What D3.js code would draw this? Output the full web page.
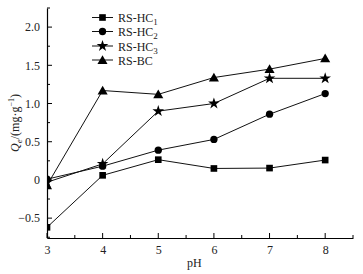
<!DOCTYPE html>
<html><head><meta charset="utf-8">
<script src="https://cdn.jsdelivr.net/npm/d3@7/dist/d3.min.js"></script>
<style>body{margin:0;background:#fff}svg{display:block}</style>
</head><body>
<svg id="c" width="363" height="274"></svg>
<script>
const pH = [3, 4, 5, 6, 7, 8];
const hc1 = [-0.62, 0.06, 0.265, 0.15, 0.155, 0.26];
const hc2 = [0.01, 0.18, 0.39, 0.53, 0.86, 1.13];
const hc3 = [-0.03, 0.21, 0.90, 1.00, 1.33, 1.33];
const bc  = [-0.07, 1.17, 1.12, 1.34, 1.45, 1.59];
const seriesNames = ["RS-HC", "RS-HC", "RS-HC", "RS-BC"];
const seriesSubs = ["1", "2", "3", ""];
const yTicks = [-0.5, 0, 0.5, 1.0, 1.5, 2.0];
const yTickLabels = ["\u22120.5", "0", "0.5", "1.0", "1.5", "2.0"];
const xTicks = [3, 4, 5, 6, 7, 8];

const svg = d3.select("#c");
const font = "'Liberation Serif','Times New Roman',serif";
const L = 47, R = 353, T = 8, B = 238;
const x = d3.scaleLinear().domain([3, 8.5]).range([L, R]);
const y = d3.scaleLinear().domain([-0.76, 2.25]).range([B, T]);

svg.append("defs").append("clipPath").attr("id", "clip")
  .append("rect").attr("x", L).attr("y", 0).attr("width", R - L + 10).attr("height", B);

// axes
const xAxis = d3.axisBottom(x).tickValues(xTicks).tickSize(0).tickFormat(d3.format("d")).tickPadding(7);
const gx = svg.append("g").attr("transform", `translate(0,${B})`).call(xAxis);
const yAxis = d3.axisLeft(y).tickValues(yTicks).tickSize(0).tickPadding(7)
  .tickFormat((d, i) => yTickLabels[i]);
const gy = svg.append("g").attr("transform", `translate(${L},0)`).call(yAxis);
[gx, gy].forEach(g => {
  g.select(".domain").attr("stroke", "#000").attr("stroke-width", 1.2);
  g.selectAll("text").attr("font-family", font).attr("font-size", 12).attr("fill", "#222");
});
// inward ticks
const xMinor = d3.range(3, 8.51, 0.5);
svg.append("g").selectAll("line").data(xMinor).join("line")
  .attr("x1", d => x(d)).attr("x2", d => x(d))
  .attr("y1", B).attr("y2", d => B - (Math.abs(d - Math.round(d)) < 1e-6 ? 5 : 3))
  .attr("stroke", "#000").attr("stroke-width", 1);
const yMinor = d3.range(-0.75, 2.26, 0.25);
svg.append("g").selectAll("line").data(yMinor).join("line")
  .attr("y1", d => y(d)).attr("y2", d => y(d))
  .attr("x1", L).attr("x2", d => L + (Math.abs(d * 2 - Math.round(d * 2)) < 1e-6 ? 5 : 3))
  .attr("stroke", "#000").attr("stroke-width", 1);

// axis titles
svg.append("text").attr("x", x(5.65)).attr("y", 267).attr("text-anchor", "middle")
  .attr("font-family", font).attr("font-size", 12).attr("fill", "#222").text("pH");
const yl = svg.append("text").attr("transform", "translate(19,123) rotate(-90)")
  .attr("text-anchor", "middle").attr("font-family", font).attr("font-size", 12).attr("fill", "#222");
yl.append("tspan").attr("font-style", "italic").text("Q");
yl.append("tspan").attr("font-style", "italic").attr("font-size", 9).attr("dy", 3).text("e");
yl.append("tspan").attr("dy", -3).text("/(mg\u00b7g");
yl.append("tspan").attr("font-size", 8).attr("dy", -5).text("\u22121");
yl.append("tspan").attr("dy", 5).text(")");

// series
const all = [hc1, hc2, hc3, bc];
const symbols = [
  d3.symbol().type(d3.symbolSquare).size(44),
  d3.symbol().type(d3.symbolCircle).size(42),
  d3.symbol().type(d3.symbolStar).size(42),
  d3.symbol().type(d3.symbolTriangle).size(44)
];
const plot = svg.append("g").attr("clip-path", "url(#clip)");
const line = d3.line().x((d, i) => x(pH[i])).y(d => y(d));
all.forEach((s, k) => {
  plot.append("path").datum(s).attr("d", line).attr("fill", "none")
    .attr("stroke", "#111").attr("stroke-width", 1);
});
all.forEach((s, k) => {
  plot.append("g").selectAll("path").data(s).join("path")
    .attr("d", symbols[k])
    .attr("transform", (d, i) => `translate(${x(pH[i])},${y(d) + (k === 3 ? 1 : 0)})`)
    .attr("fill", "#000");
});

// legend
const lg = svg.append("g");
const rowsY = [17.5, 31.5, 46, 60];
all.forEach((s, k) => {
  const ry = rowsY[k];
  lg.append("line").attr("x1", 92).attr("x2", 113).attr("y1", ry).attr("y2", ry)
    .attr("stroke", "#111").attr("stroke-width", 1);
  lg.append("path").attr("d", symbols[k]).attr("transform", `translate(102.5,${ry + (k === 3 ? 1 : 0)})`).attr("fill", "#000");
  const t = lg.append("text").attr("x", 118).attr("y", ry + 4.5)
    .attr("font-family", font).attr("font-size", 12).attr("fill", "#222");
  t.append("tspan").text(seriesNames[k]);
  if (seriesSubs[k]) t.append("tspan").attr("font-size", 9).attr("dy", 3).text(seriesSubs[k]);
});
</script>
</body></html>
